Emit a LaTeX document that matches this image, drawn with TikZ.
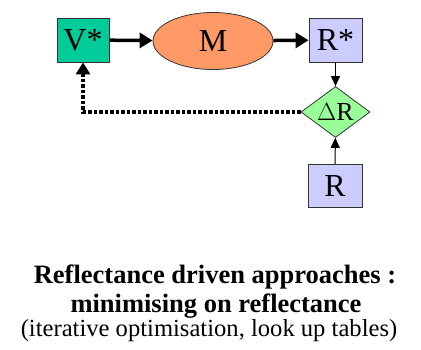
\documentclass[tikz,border=0pt]{standalone}
\usepackage{fontspec}
\setmainfont{Liberation Serif}
\usetikzlibrary{shapes.geometric,arrows.meta}
\definecolor{vgreen}{HTML}{00CC99}
\definecolor{morange}{HTML}{FF9966}
\definecolor{rlilac}{HTML}{CCCCFF}
\definecolor{dgreen}{HTML}{99FF99}
\tikzset{
  box/.style={draw=black!80, line width=0.8pt, inner sep=0pt, font=\fontsize{32}{32}\selectfont},
  thickarrow/.style={line width=3.5pt, -{Triangle[length=13pt,width=15pt]}},
  thinarrow/.style={line width=1pt, -{Triangle[length=10pt,width=9pt]}},
  feedback/.style={line width=3.5pt, dash pattern=on 3.5pt off 2pt, -{Triangle[length=12pt,width=14pt]}},
  titleline/.style={anchor=base, inner sep=0pt, font=\fontsize{26.5}{30}\selectfont\bfseries},
  noteline/.style={anchor=base, inner sep=0pt, font=\fontsize{24.6}{28}\selectfont},
}
\begin{document}
\begin{tikzpicture}[x=1pt,y=-1pt]
  \useasboundingbox (0,0) rectangle (421,349);
  \node[box, fill=vgreen, minimum width=52pt, minimum height=44pt] (v) at (83,40) {V*};
  \node[box, ellipse, fill=morange, minimum width=120pt, minimum height=57pt] (m) at (213,41) {M};
  \node[box, fill=rlilac, minimum width=53pt, minimum height=44pt] (rs) at (335.5,40) {R*};
  \node[box, diamond, fill=dgreen, aspect=1.35, minimum width=69pt, minimum height=51pt,
        font=\fontsize{26}{26}\selectfont] (dr) at (335.5,112) {$\Delta$R};
  \node[box, fill=rlilac, minimum width=54pt, minimum height=43pt] (r) at (335,186) {R};
  \draw[thickarrow] (v) -- (m);
  \draw[thickarrow] (m) -- (rs);
  \draw[thinarrow] (rs) -- (dr);
  \draw[thinarrow] (r) -- (dr);
  \coordinate (corner) at (83,112);
  \draw[feedback] (dr.west) -- (corner) -- (v.south);
  % caption
  \node[titleline] (cap1) at (215,283) {Reflectance driven approaches :};
  \node[titleline] (cap2) at (216,312) {minimising on reflectance};
  \node[noteline] (cap3) at (209,336) {(iterative optimisation, look up tables)};
\end{tikzpicture}
\end{document}
